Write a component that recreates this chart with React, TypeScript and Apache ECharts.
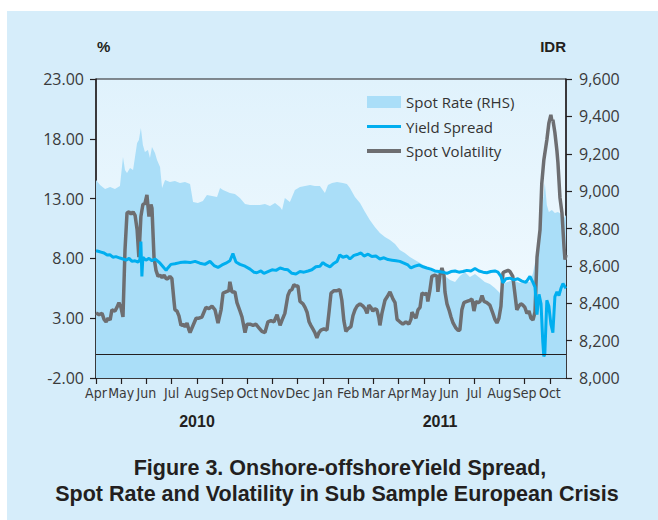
import React, { useEffect, useRef } from "react";
import * as echarts from "echarts";

const months = ["Apr", "May", "Jun", "Jul", "Aug", "Sep", "Oct", "Nov", "Dec", "Jan", "Feb", "Mar", "Apr", "May", "Jun", "Jul", "Aug", "Sep", "Oct"];
const years = ["2010", "2011"];
const axisEnd = 18.64; // month offset of the last observation (from 1 Apr 2010)

// Spot rate (IDR, right axis) - x is month offset from April 2010
const spotT = [0, 0.16, 0.36, 0.56, 0.75, 0.95, 1.07, 1.15, 1.23, 1.35, 1.47, 1.63, 1.7, 1.78, 1.86, 1.94, 2.06, 2.14, 2.22, 2.34, 2.42, 2.54, 2.62, 2.74, 2.93, 3.13, 3.33, 3.53, 3.73, 3.85, 4.04, 4.24, 4.4, 4.6, 4.8, 4.92, 5.04, 5.31, 5.51, 5.71, 5.91, 6.11, 6.3, 6.5, 6.7, 6.9, 7.1, 7.3, 7.38, 7.49, 7.69, 7.89, 8.09, 8.29, 8.49, 8.68, 8.88, 9.08, 9.2, 9.36, 9.56, 9.79, 9.95, 10.07, 10.27, 10.47, 10.67, 10.86, 11.06, 11.26, 11.46, 11.66, 11.86, 12.05, 12.25, 12.45, 12.65, 12.85, 13.05, 13.24, 13.44, 13.64, 13.84, 14.04, 14.24, 14.43, 14.63, 14.83, 15.03, 15.23, 15.42, 15.62, 15.82, 16.02, 16.22, 16.42, 16.61, 16.81, 17.01, 17.21, 17.33, 17.45, 17.57, 17.68, 17.8, 17.88, 17.96, 18.08, 18.2, 18.32, 18.44, 18.56, 18.64];
const spotRate = [9060, 9033, 9011, 9022, 9011, 9027, 9183, 9113, 9097, 9124, 9113, 9258, 9274, 9338, 9247, 9209, 9220, 9177, 9236, 9204, 9167, 9129, 9017, 9060, 9049, 9054, 9043, 9049, 9038, 8942, 8936, 8947, 8979, 8974, 8969, 9017, 9006, 8990, 8985, 8963, 8931, 8926, 8926, 8926, 8931, 8920, 8936, 8915, 8899, 8963, 8942, 9006, 9022, 9027, 9033, 9027, 9027, 8990, 9033, 9043, 9049, 9043, 9038, 9017, 8969, 8936, 8888, 8845, 8808, 8776, 8754, 8738, 8717, 8685, 8669, 8647, 8631, 8615, 8600, 8578, 8567, 8562, 8546, 8524, 8514, 8546, 8567, 8541, 8557, 8535, 8514, 8503, 8482, 8455, 8508, 8519, 8519, 8508, 8514, 8514, 8562, 8642, 8738, 8883, 9044, 8926, 8888, 8899, 8883, 8888, 8878, 8856, 8872];

// Onshore-offshore yield spread (%, left axis)
const yieldT = [0, 0.16, 0.32, 0.44, 0.56, 0.67, 0.79, 0.95, 1.07, 1.19, 1.31, 1.43, 1.55, 1.67, 1.74, 1.78, 1.82, 1.86, 1.98, 2.1, 2.22, 2.34, 2.46, 2.54, 2.66, 2.78, 2.85, 2.97, 3.13, 3.33, 3.53, 3.73, 3.93, 4.12, 4.32, 4.52, 4.68, 4.84, 5.0, 5.15, 5.31, 5.43, 5.55, 5.71, 5.91, 6.11, 6.26, 6.38, 6.54, 6.66, 6.82, 6.98, 7.14, 7.3, 7.45, 7.61, 7.77, 7.93, 8.09, 8.25, 8.41, 8.56, 8.72, 8.88, 9.0, 9.12, 9.28, 9.44, 9.56, 9.67, 9.79, 9.95, 10.07, 10.23, 10.39, 10.51, 10.63, 10.79, 10.94, 11.1, 11.26, 11.42, 11.58, 11.74, 11.9, 12.05, 12.21, 12.37, 12.49, 12.65, 12.81, 12.97, 13.12, 13.28, 13.44, 13.6, 13.76, 13.92, 14.08, 14.24, 14.39, 14.55, 14.71, 14.87, 15.03, 15.19, 15.35, 15.5, 15.66, 15.82, 15.94, 16.06, 16.14, 16.26, 16.42, 16.57, 16.73, 16.89, 17.05, 17.21, 17.33, 17.41, 17.49, 17.57, 17.65, 17.72, 17.76, 17.8, 17.88, 17.96, 18.04, 18.12, 18.2, 18.28, 18.36, 18.44, 18.52, 18.6, 18.64];
const yieldSpread = [8.64, 8.55, 8.45, 8.28, 8.3, 8.1, 8.15, 8.03, 7.95, 7.85, 8.0, 7.75, 7.8, 7.7, 7.9, 9.4, 6.5, 8.1, 7.85, 8.0, 7.8, 7.95, 7.75, 7.6, 7.3, 7.0, 7.2, 7.5, 7.55, 7.65, 7.7, 7.65, 7.75, 7.6, 7.5, 7.75, 7.4, 7.25, 7.45, 7.6, 7.8, 8.4, 7.7, 7.5, 7.35, 7.1, 6.85, 6.8, 6.95, 6.75, 6.9, 7.05, 7.0, 7.2, 7.1, 7.05, 6.75, 6.7, 6.9, 6.85, 6.95, 7.05, 7.3, 7.35, 7.65, 7.45, 7.3, 7.6, 7.75, 8.3, 8.1, 8.2, 7.95, 8.25, 8.35, 8.45, 8.2, 8.35, 8.15, 8.2, 7.95, 8.05, 7.9, 7.85, 7.8, 7.75, 7.6, 7.45, 7.2, 7.35, 7.45, 7.3, 7.2, 7.1, 6.95, 6.9, 6.85, 6.75, 6.9, 6.95, 6.85, 6.9, 7.0, 6.95, 7.15, 6.95, 6.85, 6.8, 6.9, 6.95, 6.85, 6.5, 5.95, 6.3, 6.35, 6.2, 6.3, 6.1, 6.0, 6.5, 6.0, 5.6, 3.3, 5.0, 4.2, 1.0, -0.2, 0.0, 4.5, 4.0, 2.5, 1.8, 4.8, 5.2, 4.9, 5.5, 5.9, 5.6, 5.5];

// Spot volatility (%, left axis)
const volT = [0, 0.12, 0.24, 0.32, 0.4, 0.48, 0.56, 0.63, 0.75, 0.83, 0.91, 0.99, 1.07, 1.15, 1.23, 1.31, 1.39, 1.47, 1.55, 1.63, 1.7, 1.78, 1.86, 1.94, 2.02, 2.1, 2.18, 2.22, 2.3, 2.38, 2.46, 2.54, 2.62, 2.7, 2.78, 2.85, 2.93, 3.01, 3.09, 3.13, 3.21, 3.29, 3.37, 3.45, 3.53, 3.61, 3.69, 3.73, 3.81, 3.89, 3.97, 4.08, 4.2, 4.28, 4.36, 4.48, 4.6, 4.72, 4.84, 4.96, 5.04, 5.15, 5.27, 5.31, 5.39, 5.51, 5.59, 5.71, 5.79, 5.91, 5.99, 6.11, 6.23, 6.34, 6.46, 6.58, 6.7, 6.82, 6.94, 7.06, 7.18, 7.3, 7.41, 7.49, 7.61, 7.69, 7.77, 7.85, 7.93, 8.01, 8.09, 8.21, 8.29, 8.37, 8.45, 8.52, 8.6, 8.68, 8.76, 8.84, 8.92, 9.04, 9.16, 9.24, 9.32, 9.44, 9.56, 9.67, 9.75, 9.83, 9.91, 9.99, 10.11, 10.19, 10.27, 10.35, 10.47, 10.59, 10.67, 10.75, 10.82, 10.9, 10.98, 11.06, 11.14, 11.22, 11.26, 11.34, 11.46, 11.58, 11.66, 11.78, 11.86, 11.94, 12.05, 12.17, 12.29, 12.41, 12.49, 12.53, 12.61, 12.69, 12.77, 12.85, 12.93, 13.05, 13.12, 13.16, 13.24, 13.32, 13.44, 13.52, 13.56, 13.64, 13.72, 13.8, 13.84, 13.92, 14.0, 14.08, 14.16, 14.27, 14.35, 14.43, 14.51, 14.59, 14.71, 14.83, 14.91, 14.99, 15.07, 15.15, 15.23, 15.31, 15.39, 15.5, 15.62, 15.74, 15.82, 15.9, 15.98, 16.06, 16.14, 16.22, 16.34, 16.42, 16.53, 16.61, 16.69, 16.77, 16.85, 16.93, 17.01, 17.09, 17.17, 17.25, 17.33, 17.41, 17.49, 17.61, 17.68, 17.76, 17.88, 17.96, 18.04, 18.08, 18.12, 18.2, 18.28, 18.32, 18.4, 18.48, 18.56, 18.6, 18.64];
const volatility = [3.43, 3.3, 3.4, 2.9, 2.7, 3.0, 2.85, 3.7, 3.6, 3.9, 4.3, 3.9, 3.1, 8.7, 11.8, 11.9, 11.7, 11.9, 11.6, 10.4, 8.1, 11.5, 12.5, 12.6, 13.3, 11.5, 12.5, 12.2, 8.1, 7.0, 6.5, 6.6, 6.4, 6.6, 6.3, 6.3, 6.5, 6.3, 4.5, 3.7, 3.6, 3.2, 2.4, 2.5, 2.3, 2.6, 2.0, 1.8, 2.2, 2.6, 3.0, 3.0, 3.1, 3.5, 3.9, 3.8, 4.0, 3.7, 2.6, 3.7, 5.1, 5.2, 5.3, 6.05, 5.2, 5.2, 4.3, 3.6, 3.1, 1.8, 2.5, 2.5, 2.4, 2.5, 2.2, 1.9, 1.8, 2.7, 2.8, 2.7, 3.3, 2.4, 3.0, 3.4, 4.9, 5.3, 5.4, 5.8, 5.7, 5.7, 4.4, 4.2, 3.9, 3.5, 2.7, 2.4, 2.1, 1.8, 1.35, 1.8, 2.0, 2.1, 2.0, 3.5, 5.1, 5.3, 5.3, 5.4, 4.5, 2.8, 1.9, 2.1, 2.3, 3.2, 3.7, 4.0, 4.2, 4.0, 3.8, 3.4, 4.1, 3.9, 3.6, 3.8, 3.7, 3.0, 2.4, 3.4, 4.5, 4.9, 5.2, 4.6, 4.3, 2.9, 2.7, 2.5, 2.7, 2.5, 2.9, 3.5, 3.2, 3.0, 3.7, 3.9, 5.1, 5.0, 5.1, 4.4, 5.3, 6.5, 6.6, 6.5, 5.2, 6.6, 7.2, 6.6, 5.2, 4.2, 3.7, 3.1, 2.6, 2.2, 2.0, 2.0, 3.7, 4.3, 4.4, 4.5, 4.6, 3.6, 4.4, 4.3, 4.4, 4.9, 4.4, 4.3, 4.1, 3.4, 2.9, 2.6, 3.0, 4.0, 6.8, 6.9, 7.0, 6.9, 6.5, 5.1, 3.7, 4.0, 4.2, 4.1, 3.9, 3.4, 3.6, 3.0, 2.85, 3.5, 8.1, 10.4, 14.3, 16.2, 17.9, 19.3, 20.0, 19.5, 19.6, 18.5, 17.0, 16.0, 13.1, 11.8, 9.0, 7.9, 8.3];

const zip = (xs: number[], ys: number[]) => xs.map((x, i) => [x, ys[i]]);

const INK = "#231f20";
const LABEL = "#3a3a3a";
const AREA = "#aadef8";
const BLUE = "#00aeef";
const GREY = "#6d6e71";

// legend glyphs: a thin horizontal bar inside a 34x12 box
const BLUE_BAR = "path://M0,0M34,12M0,4.5H34V7.5H0Z";
const GREY_BAR = "path://M0,0M34,12M0,4H34V8H0Z";

export default function App() {
  const ref = useRef<HTMLDivElement>(null);

  useEffect(() => {
    if (!ref.current) return;
    const chart = echarts.init(ref.current, undefined, { renderer: "svg" });
    const monthTicks = months.map((_, i) => i);
    const axisLabelFont = { fontFamily: "'Open Sans', sans-serif", fontSize: 16, color: LABEL };

    chart.setOption({
      animation: false,
      grid: {
        left: 96,
        top: 79,
        width: 470,
        height: 299,
        show: true,
        borderColor: INK,
        borderWidth: 1,
        backgroundColor: new echarts.graphic.LinearGradient(0, 0, 0, 1, [
          { offset: 0, color: "#e0f2fc" },
          { offset: 1, color: "#f4fbff" },
        ]),
      },
      legend: {
        orient: "vertical",
        left: 362,
        top: 89,
        itemWidth: 34,
        itemHeight: 12,
        itemGap: 8.5,
        selectedMode: false,
        textStyle: { fontFamily: "'Open Sans', sans-serif", fontSize: 15, color: "#333", lineHeight: 16 },
        data: [
          { name: "Spot Rate (RHS)", icon: "rect", itemStyle: { color: AREA, borderWidth: 0 } },
          { name: "Yield Spread", icon: BLUE_BAR, itemStyle: { color: BLUE, borderWidth: 0 } },
          { name: "Spot Volatility", icon: GREY_BAR, itemStyle: { color: GREY, borderWidth: 0 } },
        ],
      },
      xAxis: {
        type: "value",
        min: 0,
        max: axisEnd,
        interval: 1,
        axisLine: { show: true, onZero: false, lineStyle: { color: INK, width: 1.5 } },
        axisTick: { show: true, length: 6, lineStyle: { color: INK, width: 1.2 }, customValues: monthTicks },
        axisLabel: {
          customValues: monthTicks,
          formatter: (v: number) => months[Math.round(v)] ?? "",
          margin: 8,
          fontFamily: "'Liberation Sans Narrow', 'DejaVu Sans Condensed', sans-serif",
          fontSize: 14,
          color: LABEL,
        },
        splitLine: { show: false },
      },
      yAxis: [
        {
          type: "value",
          position: "left",
          min: -2,
          max: 23,
          interval: 5,
          axisLine: { show: true, lineStyle: { color: INK, width: 1.5 } },
          axisTick: { show: true, length: 6, lineStyle: { color: INK, width: 1.2 } },
          axisLabel: { ...axisLabelFont, margin: 12, formatter: (v: number) => v.toFixed(2) },
          splitLine: { show: false },
        },
        {
          type: "value",
          position: "right",
          min: 8000,
          max: 9600,
          interval: 200,
          axisLine: { show: true, lineStyle: { color: INK, width: 1.5 } },
          axisTick: { show: true, length: 6, lineStyle: { color: INK, width: 1.2 } },
          axisLabel: { ...axisLabelFont, margin: 13, formatter: (v: number) => v.toLocaleString("en-US") },
          splitLine: { show: false },
        },
      ],
      series: [
        {
          name: "Spot Rate (RHS)",
          type: "line",
          yAxisIndex: 1,
          data: zip(spotT, spotRate),
          symbol: "none",
          silent: true,
          z: 1,
          itemStyle: { color: AREA },
          lineStyle: { width: 0, color: AREA },
          areaStyle: { color: AREA, opacity: 1 },
        },
        {
          name: "Spot Volatility",
          type: "line",
          yAxisIndex: 0,
          data: zip(volT, volatility),
          symbol: "none",
          silent: true,
          z: 3,
          itemStyle: { color: GREY },
          lineStyle: { width: 3.5, color: GREY },
          markLine: {
            silent: true,
            symbol: ["none", "none"],
            label: { show: false },
            lineStyle: { color: INK, width: 1, type: "solid" },
            data: [{ yAxis: 0 }],
          },
        },
        {
          name: "Yield Spread",
          type: "line",
          yAxisIndex: 0,
          data: zip(yieldT, yieldSpread),
          symbol: "none",
          silent: true,
          z: 4,
          itemStyle: { color: BLUE },
          lineStyle: { width: 3, color: BLUE },
        },
      ],
      graphic: [
        {
          type: "text",
          x: 97,
          y: 46,
          style: { text: "%", fill: INK, fontFamily: "'Liberation Sans', sans-serif", fontWeight: "bold", fontSize: 15, align: "left", verticalAlign: "middle", textAlign: "left", textVerticalAlign: "middle" },
        },
        {
          type: "text",
          x: 566,
          y: 46,
          style: { text: "IDR", fill: INK, fontFamily: "'Liberation Sans', sans-serif", fontWeight: "bold", fontSize: 15, align: "right", verticalAlign: "middle", textAlign: "right", textVerticalAlign: "middle" },
        },
        {
          type: "text",
          x: 197,
          y: 421,
          style: { text: years[0], fill: INK, fontFamily: "'Liberation Sans', sans-serif", fontWeight: "bold", fontSize: 16, align: "center", verticalAlign: "middle", textAlign: "center", textVerticalAlign: "middle" },
        },
        {
          type: "text",
          x: 440,
          y: 421,
          style: { text: years[1], fill: INK, fontFamily: "'Liberation Sans', sans-serif", fontWeight: "bold", fontSize: 16, align: "center", verticalAlign: "middle", textAlign: "center", textVerticalAlign: "middle" },
        },
        {
          type: "text",
          x: 340,
          y: 468,
          style: { text: "Figure 3. Onshore-offshoreYield Spread,", fill: INK, fontFamily: "'Liberation Sans', Arial, sans-serif", fontWeight: "bold", fontSize: 21.5, align: "center", verticalAlign: "middle", textAlign: "center", textVerticalAlign: "middle" },
        },
        {
          type: "text",
          x: 337,
          y: 494,
          style: { text: "Spot Rate and Volatility in Sub Sample European Crisis", fill: INK, fontFamily: "'Liberation Sans', Arial, sans-serif", fontWeight: "bold", fontSize: 21.5, align: "center", verticalAlign: "middle", textAlign: "center", textVerticalAlign: "middle" },
        },
      ],
    });

    return () => chart.dispose();
  }, []);

  return (
    <div style={{ position: "absolute", left: 0, top: 0, width: 658, height: 520, overflow: "hidden" }}>
      <div style={{ position: "absolute", left: 7, top: 11, right: 0, bottom: 0, background: "#d6edfa" }} />
      <div ref={ref} style={{ position: "absolute", left: 0, top: 0, width: 658, height: 520 }} />
    </div>
  );
}
